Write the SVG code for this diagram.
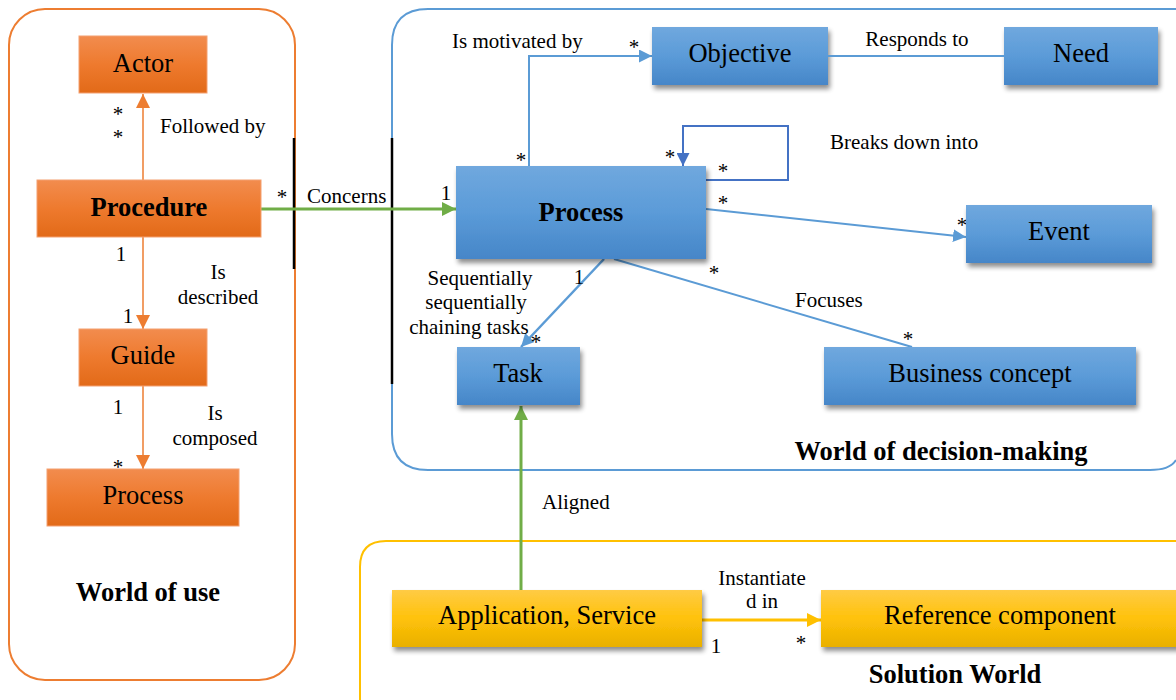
<svg xmlns="http://www.w3.org/2000/svg" width="1176" height="700" viewBox="0 0 1176 700">
  <defs>
    <linearGradient id="gOrange" x1="0" y1="0" x2="0" y2="1">
      <stop offset="0" stop-color="#F28C4E"/>
      <stop offset="0.5" stop-color="#EE7A2E"/>
      <stop offset="1" stop-color="#E26A18"/>
    </linearGradient>
    <linearGradient id="gBlue" x1="0" y1="0" x2="0" y2="1">
      <stop offset="0" stop-color="#70A8DE"/>
      <stop offset="0.5" stop-color="#5B9BD8"/>
      <stop offset="1" stop-color="#4686C8"/>
    </linearGradient>
    <linearGradient id="gYellow" x1="0" y1="0" x2="0" y2="1">
      <stop offset="0" stop-color="#FFCB45"/>
      <stop offset="0.5" stop-color="#FFC20A"/>
      <stop offset="1" stop-color="#E9B000"/>
    </linearGradient>
    <filter id="shadow" x="-10%" y="-20%" width="125%" height="160%">
      <feGaussianBlur in="SourceAlpha" stdDeviation="2.5"/>
      <feOffset dx="2" dy="4" result="b"/>
      <feComponentTransfer><feFuncA type="linear" slope="0.45"/></feComponentTransfer>
      <feMerge><feMergeNode/><feMergeNode in="SourceGraphic"/></feMerge>
    </filter>
    <marker id="aOrangeL" viewBox="0 0 10 10" refX="10" refY="5" markerWidth="14" markerHeight="14" markerUnits="userSpaceOnUse" orient="auto">
      <path d="M0,0 L10,5 L0,10 z" fill="#ED7D31"/>
    </marker>
    <marker id="aBlue" viewBox="0 0 10 10" refX="10" refY="5" markerWidth="13" markerHeight="13" markerUnits="userSpaceOnUse" orient="auto">
      <path d="M0,0 L10,5 L0,10 z" fill="#5B9BD5"/>
    </marker>
    <marker id="aDark" viewBox="0 0 10 10" refX="10" refY="5" markerWidth="13" markerHeight="13" markerUnits="userSpaceOnUse" orient="auto">
      <path d="M0,0 L10,5 L0,10 z" fill="#4472C4"/>
    </marker>
    <marker id="aGreen" viewBox="0 0 10 10" refX="10" refY="5" markerWidth="14" markerHeight="14" markerUnits="userSpaceOnUse" orient="auto">
      <path d="M0,0 L10,5 L0,10 z" fill="#70AD47"/>
    </marker>
    <marker id="aYellow" viewBox="0 0 10 10" refX="10" refY="5" markerWidth="14" markerHeight="14" markerUnits="userSpaceOnUse" orient="auto">
      <path d="M0,0 L10,5 L0,10 z" fill="#FFC000"/>
    </marker>
  </defs>
  <style>
    text { font-family: "Liberation Serif", "Times New Roman", serif; fill: #000; }
    .node { font-size: 26.5px; text-anchor: middle; dominant-baseline: central; }
    .bold { font-weight: bold; }
    .lbl { font-size: 21px; }
    .mid { text-anchor: middle; }
    .title { font-size: 26.5px; font-weight: bold; text-anchor: middle; }
    .orange rect { fill: url(#gOrange); stroke: #F4A070; stroke-width: 1; }
    .blue rect { fill: url(#gBlue); filter: url(#shadow); }
    .yellow rect { fill: url(#gYellow); filter: url(#shadow); }
    .wire { fill: none; }
  </style>

  <rect width="1176" height="700" fill="#FFFFFF"/>

  <!-- world containers -->
  <g id="world-of-use">
    <rect x="9" y="9" width="286" height="671" rx="36" fill="none" stroke="#ED7D31" stroke-width="2"/>
    <text x="148" y="601" class="title">World of use</text>
  </g>
  <g id="world-of-decision-making">
    <path d="M1176,460 Q1170,470 1150,470 L428,470 Q392,470 392,434 L392,45 Q392,9 428,9 L1176,9" fill="none" stroke="#5B9BD5" stroke-width="2"/>
    <text x="941" y="460" class="title">World of decision-making</text>
  </g>
  <g id="solution-world">
    <path d="M1176,541 L386,541 Q360,541 360,567 L360,700" fill="none" stroke="#FFC000" stroke-width="2"/>
    <text x="955" y="683" class="title">Solution World</text>
  </g>

  <!-- connectors -->
  <g id="connectors">
    <!-- world of use -->
    <line class="wire" x1="143" y1="180" x2="143" y2="94" stroke="#ED7D31" stroke-width="1.5" marker-end="url(#aOrangeL)"/>
    <line class="wire" x1="143" y1="237" x2="143" y2="329" stroke="#ED7D31" stroke-width="1.5" marker-end="url(#aOrangeL)"/>
    <line class="wire" x1="143" y1="386" x2="143" y2="469" stroke="#ED7D31" stroke-width="1.5" marker-end="url(#aOrangeL)"/>
    <!-- boundary bars -->
    <line x1="294" y1="138" x2="294" y2="269" stroke="#000" stroke-width="2.5"/>
    <line x1="392" y1="138" x2="392" y2="384" stroke="#000" stroke-width="2.5"/>
    <!-- concerns -->
    <line class="wire" x1="261" y1="209" x2="456" y2="209" stroke="#70AD47" stroke-width="3" marker-end="url(#aGreen)"/>
    <!-- is motivated by -->
    <polyline class="wire" points="529,166 529,56 652,56" stroke="#5B9BD5" stroke-width="2" marker-end="url(#aBlue)"/>
    <!-- breaks down into (self loop) -->
    <polyline class="wire" points="706,180 788,180 788,126 683,126 683,166" stroke="#4472C4" stroke-width="2" marker-end="url(#aDark)"/>
    <!-- process to event -->
    <line class="wire" x1="706" y1="209" x2="966" y2="237" stroke="#5B9BD5" stroke-width="2" marker-end="url(#aBlue)"/>
    <!-- process to task -->
    <line class="wire" x1="604" y1="259" x2="521" y2="347" stroke="#5B9BD5" stroke-width="2.5" marker-end="url(#aBlue)"/>
    <!-- focuses -->
    <line class="wire" x1="614" y1="259" x2="912" y2="347" stroke="#5B9BD5" stroke-width="2"/>
    <!-- aligned -->
    <line class="wire" x1="521" y1="590" x2="521" y2="406" stroke="#70AD47" stroke-width="3" marker-end="url(#aGreen)"/>
    <!-- instantiated in -->
    <line class="wire" x1="702" y1="620" x2="821" y2="620" stroke="#FFC000" stroke-width="3" marker-end="url(#aYellow)"/>

    <!-- labels and multiplicities -->
    <text x="160" y="133" class="lbl">Followed by</text>
    <text x="118" y="121" class="lbl mid">*</text>
    <text x="118" y="144" class="lbl mid">*</text>
    <text x="121" y="261" class="lbl mid">1</text>
    <text x="218" y="279" class="lbl mid">Is</text>
    <text x="218" y="304" class="lbl mid">described</text>
    <text x="128" y="323" class="lbl mid">1</text>
    <text x="118" y="414" class="lbl mid">1</text>
    <text x="215" y="420" class="lbl mid">Is</text>
    <text x="215" y="445" class="lbl mid">composed</text>
    <text x="118" y="474" class="lbl mid">*</text>

    <text x="282" y="204" class="lbl mid">*</text>
    <text x="307" y="203" class="lbl">Concerns</text>
    <text x="446" y="200" class="lbl mid">1</text>

    <text x="452" y="48" class="lbl">Is motivated by</text>
    <text x="521" y="167" class="lbl mid">*</text>
    <text x="634" y="54" class="lbl mid">*</text>

    <text x="830" y="149" class="lbl">Breaks down into</text>
    <text x="670" y="164" class="lbl mid">*</text>
    <text x="723" y="178" class="lbl mid">*</text>

    <text x="723" y="210" class="lbl mid">*</text>
    <text x="962" y="232" class="lbl mid">*</text>

    <text x="480" y="285" class="lbl mid">Sequentially</text>
    <text x="476" y="309" class="lbl mid">sequentially</text>
    <text x="469" y="334" class="lbl mid">chaining tasks</text>
    <text x="579" y="284" class="lbl mid">1</text>
    <text x="536" y="349" class="lbl mid">*</text>

    <text x="714" y="280" class="lbl mid">*</text>
    <text x="795" y="307" class="lbl">Focuses</text>
    <text x="908" y="346" class="lbl mid">*</text>

    <text x="542" y="509" class="lbl">Aligned</text>

    <text x="762" y="585" class="lbl mid">Instantiate</text>
    <text x="762" y="608" class="lbl mid">d in</text>
    <text x="716" y="653" class="lbl mid">1</text>
    <text x="801" y="650" class="lbl mid">*</text>
  </g>

  <!-- world of use nodes -->
  <g id="actor" class="orange">
    <rect x="79" y="36" width="128" height="57"/>
    <text x="143" y="63" class="node">Actor</text>
  </g>
  <g id="procedure" class="orange">
    <rect x="37" y="180" width="224" height="57"/>
    <text x="149" y="207" class="node bold">Procedure</text>
  </g>
  <g id="guide" class="orange">
    <rect x="79" y="329" width="128" height="57"/>
    <text x="143" y="355" class="node">Guide</text>
  </g>
  <g id="use-process" class="orange">
    <rect x="47" y="469" width="192" height="57"/>
    <text x="143" y="495" class="node">Process</text>
  </g>

  <!-- world of decision-making nodes -->
  <g id="objective" class="blue">
    <rect x="652" y="27" width="176" height="58"/>
    <text x="740" y="53" class="node">Objective</text>
  </g>
  <g id="need" class="blue">
    <rect x="1004" y="27" width="154" height="58"/>
    <text x="1081" y="53" class="node">Need</text>
  </g>
  <g id="process" class="blue">
    <rect x="456" y="166" width="250" height="93"/>
    <text x="581" y="212" class="node bold">Process</text>
  </g>
  <g id="event" class="blue">
    <rect x="966" y="205" width="186" height="58"/>
    <text x="1059" y="231" class="node">Event</text>
  </g>
  <g id="task" class="blue">
    <rect x="457" y="347" width="123" height="58"/>
    <text x="518" y="373" class="node">Task</text>
  </g>
  <g id="business-concept" class="blue">
    <rect x="824" y="347" width="312" height="58"/>
    <text x="980" y="373" class="node">Business concept</text>
  </g>
  <!-- objective to need link -->
  <g id="responds-to">
    <line x1="828" y1="56" x2="1004" y2="56" stroke="#5B9BD5" stroke-width="2"/>
    <text x="917" y="46" class="lbl mid">Responds to</text>
  </g>

  <!-- solution world nodes -->
  <g id="application-service" class="yellow">
    <rect x="392" y="590" width="310" height="57"/>
    <text x="547" y="615" class="node">Application, Service</text>
  </g>
  <g id="reference-component" class="yellow">
    <rect x="821" y="590" width="360" height="57"/>
    <text x="1000" y="615" class="node">Reference component</text>
  </g>
</svg>
